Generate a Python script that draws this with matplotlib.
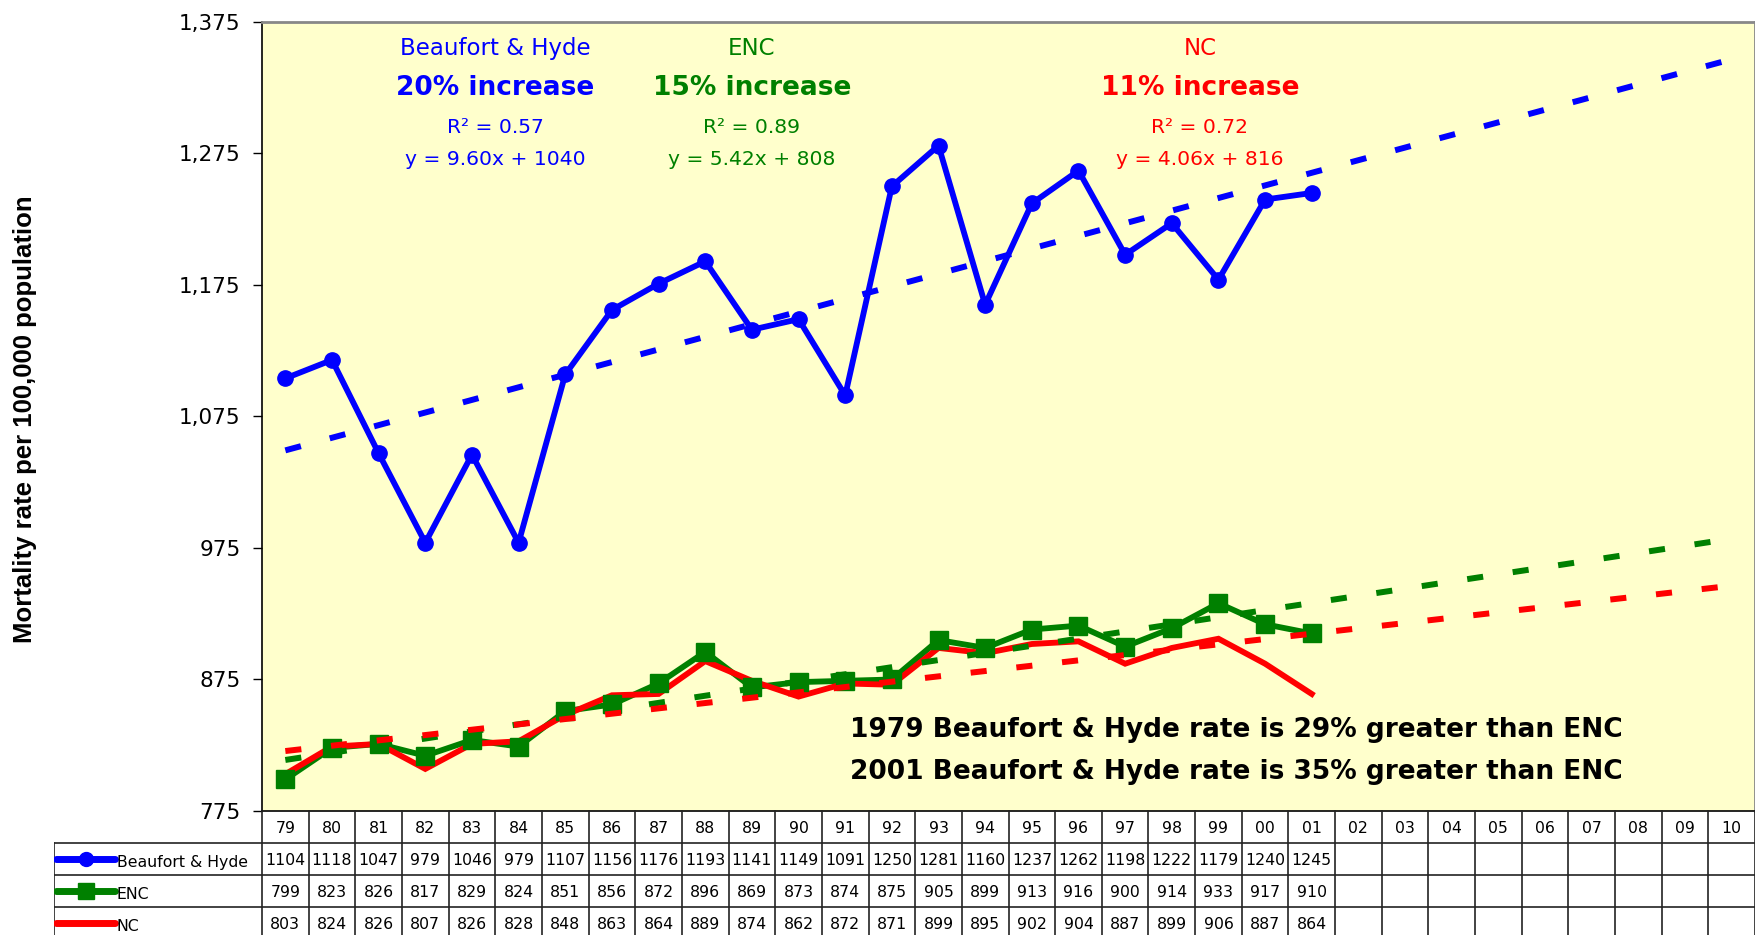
import numpy as np
import matplotlib.pyplot as plt

years = ['79', '80', '81', '82', '83', '84', '85', '86', '87', '88', '89', '90',
         '91', '92', '93', '94', '95', '96', '97', '98', '99', '00', '01',
         '02', '03', '04', '05', '06', '07', '08', '09', '10']
beaufort = [1104, 1118, 1047, 979, 1046, 979, 1107, 1156, 1176, 1193, 1141, 1149,
            1091, 1250, 1281, 1160, 1237, 1262, 1198, 1222, 1179, 1240, 1245]
enc = [799, 823, 826, 817, 829, 824, 851, 856, 872, 896, 869, 873,
       874, 875, 905, 899, 913, 916, 900, 914, 933, 917, 910]
nc = [803, 824, 826, 807, 826, 828, 848, 863, 864, 889, 874, 862,
      872, 871, 899, 895, 902, 904, 887, 899, 906, 887, 864]

series_names = ['Beaufort & Hyde', 'ENC', 'NC']
series_vals = [beaufort, enc, nc]
colors = ['#0000FF', '#008000', '#FF0000']
markers = ['o', 's', None]
pct_text = ['20% increase', '15% increase', '11% increase']
r2_text = ['R² = 0.57', 'R² = 0.89', 'R² = 0.72']
eq_text = ['y = 9.60x + 1040', 'y = 5.42x + 808', 'y = 4.06x + 816']
yticks = [775, 875, 975, 1075, 1175, 1275, 1375]

W, H = 1755, 935
fig = plt.figure(figsize=(W / 100, H / 100), dpi=100)

# pixel layout of the plot area
left_px, right_px, top_px, bot_px = 262, 1755, 22, 811
ncat = len(years)
colw = (right_px - left_px) / ncat

ax = fig.add_axes([left_px / W, 1 - bot_px / H, (right_px - left_px) / W, (bot_px - top_px) / H])
ax.set_facecolor('#FFFFCC')
ax.set_xlim(-0.5, ncat - 0.5)
ax.set_ylim(775, 1375)

x_data = np.arange(len(beaufort))
x_all = np.arange(ncat)

for vals, c, m in zip(series_vals, colors, markers):
    ax.plot(x_data, vals, color=c, lw=4.2, zorder=3, solid_joinstyle='miter')
for vals, c, m in zip(series_vals, colors, markers):
    if m == 'o':
        ax.plot(x_data, vals, ls='none', marker='o', ms=11, color=c, zorder=4)
    elif m == 's':
        ax.plot(x_data, vals, ls='none', marker='s', ms=12.5, color=c, zorder=4)

# linear trendlines (Excel style, x = 1..n), extended to 2010
for vals, c in zip(series_vals, colors):
    k, b = np.polyfit(np.arange(1, len(vals) + 1), vals, 1)
    ax.plot(x_all, k * (x_all + 1) + b, color=c, lw=4.3, dashes=(2.7, 5.0), zorder=5)

ax.set_yticks(yticks)
ax.set_yticklabels([f'{v:,}' for v in yticks], fontsize=15.5)
ax.tick_params(axis='y', direction='out', length=6.5, width=1, pad=9)
ax.set_xticks([])
for s in ['left', 'bottom']:
    ax.spines[s].set_color('black')
    ax.spines[s].set_linewidth(1.2)
ax.spines['top'].set_color('#888888')
ax.spines['top'].set_linewidth(2)
ax.spines['right'].set_color('#888888')
ax.spines['right'].set_linewidth(2)

fig.text(25 / W, 1 - 419 / H, 'Mortality rate per 100,000 population', rotation=90,
         ha='center', va='center', fontsize=18.5, fontweight='bold',
         family=['Liberation Sans', 'DejaVu Sans'])

# annotations at the top
ann_x = [4.5, 10.0, 19.6]
for i in range(3):
    c = colors[i]
    ax.text(ann_x[i], 0.966, series_names[i], transform=ax.get_xaxis_transform(),
            ha='center', va='center', color=c, fontsize=16.5)
    ax.text(ann_x[i], 0.916, pct_text[i], transform=ax.get_xaxis_transform(),
            ha='center', va='center', color=c, fontsize=19, fontweight='bold')
    ax.text(ann_x[i], 0.866, r2_text[i], transform=ax.get_xaxis_transform(),
            ha='center', va='center', color=c, fontsize=14.6)
    ax.text(ann_x[i], 0.826, eq_text[i], transform=ax.get_xaxis_transform(),
            ha='center', va='center', color=c, fontsize=14.6)

ax.text(12.1, 0.1027, '1979 Beaufort & Hyde rate is 29% greater than ENC',
        transform=ax.get_xaxis_transform(), ha='left', va='center',
        fontsize=19, fontweight='bold', color='black')
ax.text(12.1, 0.0494, '2001 Beaufort & Hyde rate is 35% greater than ENC',
        transform=ax.get_xaxis_transform(), ha='left', va='center',
        fontsize=19, fontweight='bold', color='black')

# data table under the chart
tab_left_px = 54
row_h = 32
tab = fig.add_axes([tab_left_px / W, 0, (right_px - tab_left_px) / W, (H - bot_px) / H])
tab.set_xlim(-0.5 - (left_px - tab_left_px) / colw, ncat - 0.5)
tab.set_ylim((H - bot_px) / row_h, 0)
tab.axis('off')
xl = -0.5 - (left_px - tab_left_px) / colw
lc = '#222222'
for k in range(ncat + 1):
    tab.plot([k - 0.5, k - 0.5], [0, 4], color=lc, lw=1.2, clip_on=False)
tab.plot([xl + 0.01, xl + 0.01], [1, 4], color=lc, lw=1.2)
for r in [1, 2, 3]:
    tab.plot([xl, ncat - 0.5], [r, r], color=lc, lw=1.2)
for i, yr in enumerate(years):
    tab.text(i, 0.55, yr, ha='center', va='center', fontsize=11.3)
for r, vals in enumerate(series_vals):
    for i, v in enumerate(vals):
        tab.text(i, r + 1.55, str(v), ha='center', va='center', fontsize=11.3)
    # legend key
    x0 = xl + 2 / colw
    x1 = xl + 61 / colw
    tab.plot([x0, x1], [r + 1.5, r + 1.5], color=colors[r], lw=5, solid_capstyle='round')
    if markers[r] == 'o':
        tab.plot([(x0 + x1) / 2], [r + 1.5], marker='o', ms=10, color=colors[r])
    elif markers[r] == 's':
        tab.plot([(x0 + x1) / 2], [r + 1.5], marker='s', ms=11, color=colors[r])
    tab.text(x1 + 2 / colw, r + 1.6, series_names[r], ha='left', va='center', fontsize=11.3)

fig.savefig('out.png', dpi=100)
